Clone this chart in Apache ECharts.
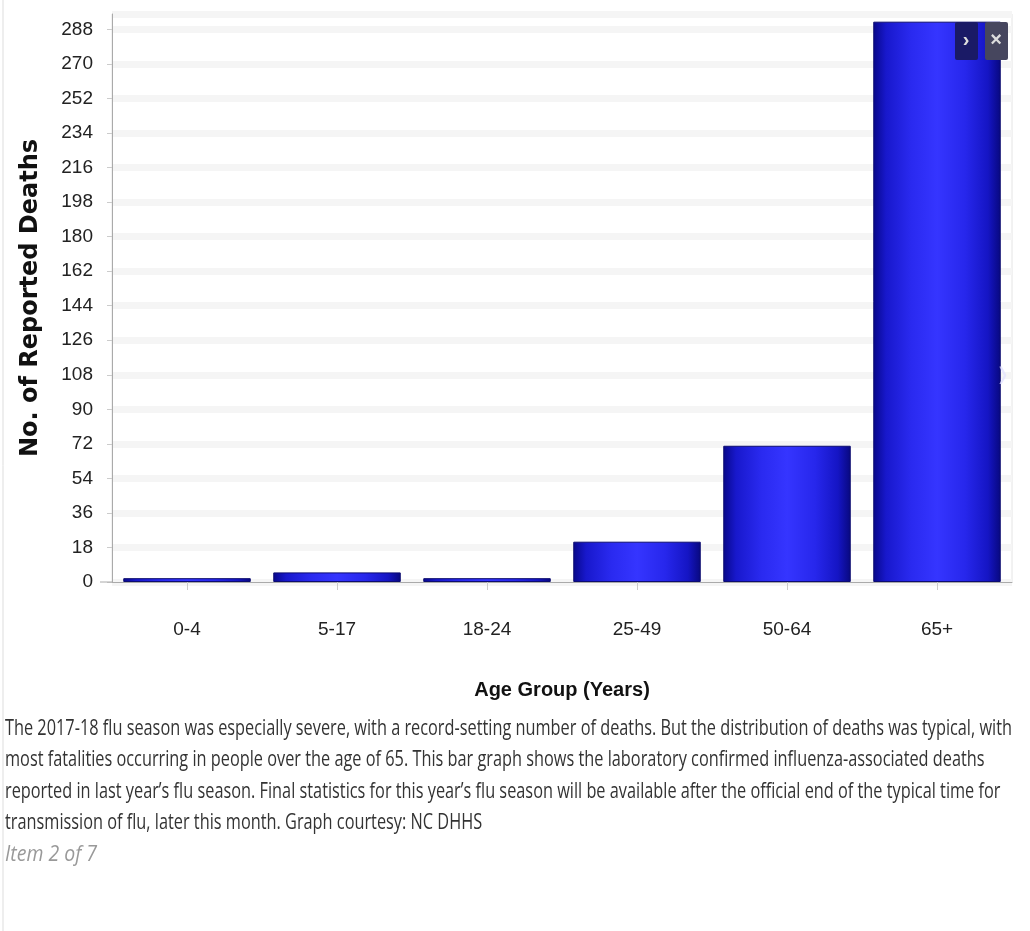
<!DOCTYPE html>
<html>
<head>
<meta charset="utf-8">
<script src="https://cdn.jsdelivr.net/npm/echarts@6/dist/echarts.min.js"></script>
<style>
  html, body { margin: 0; padding: 0; background: #fff; }
  #chart { width: 1030px; height: 931px; }
</style>
</head>
<body>
<div id="chart"></div>
<script>
const categories = ['0-4', '5-17', '18-24', '25-49', '50-64', '65+'];
const deaths = [2, 5, 2, 21, 71, 292];
const yAxisTitle = 'No. of Reported Deaths';
const xAxisTitle = 'Age Group (Years)';
const captionLines = [
  'The 2017-18 flu season was especially severe, with a record-setting number of deaths. But the distribution of deaths was typical, with',
  'most fatalities occurring in people over the age of 65. This bar graph shows the laboratory confirmed influenza-associated deaths',
  'reported in last year\u2019s flu season. Final statistics for this year\u2019s flu season will be available after the official end of the typical time for',
  'transmission of flu, later this month. Graph courtesy: NC DHHS'
];
const itemText = 'Item 2 of 7';

const SANS = '"Liberation Sans", Arial, sans-serif';
const CAPTION_FONT = '21px "Open Sans", sans-serif';
const ITEM_FONT = 'italic 21px "Open Sans", sans-serif';

// horizontal condensing factor for the caption, so the first line spans the page width
const measureCtx = document.createElement('canvas').getContext('2d');
measureCtx.font = CAPTION_FONT;
const captionScale = 1007 / measureCtx.measureText(captionLines[0]).width;
measureCtx.font = ITEM_FONT;
const itemScale = 92 / measureCtx.measureText(itemText).width;

const chart = echarts.init(document.getElementById('chart'), null, { renderer: 'canvas' });

const barGradient = new echarts.graphic.LinearGradient(0, 0, 1, 0, [
  { offset: 0, color: '#08088a' },
  { offset: 0.1, color: '#1818cc' },
  { offset: 0.3, color: '#2a2af0' },
  { offset: 0.5, color: '#3535ff' },
  { offset: 0.72, color: '#2727ec' },
  { offset: 0.9, color: '#1515c4' },
  { offset: 1, color: '#08087e' }
]);

const graphics = [
  { type: 'line', z: 100, shape: { x1: 3, y1: 0, x2: 3, y2: 931 }, style: { stroke: '#dddddd', lineWidth: 1 } },
  { type: 'line', z: 100, shape: { x1: 100, y1: 582, x2: 112, y2: 582 }, style: { stroke: '#aaaaaa', lineWidth: 1 } }
];
captionLines.forEach((t, i) => {
  graphics.push({
    type: 'text', z: 100, x: 5, y: 729 + i * 31.5, scaleX: captionScale,
    style: { text: t, font: CAPTION_FONT, fill: '#333333', verticalAlign: 'middle' }
  });
});
graphics.push({
  type: 'text', z: 100, x: 5, y: 855, scaleX: itemScale,
  style: { text: itemText, font: ITEM_FONT, fill: '#999999', verticalAlign: 'middle' }
});
// slideshow overlay buttons
graphics.push({ type: 'rect', z: 100, shape: { x: 955, y: 22, width: 23, height: 38, r: 2 }, style: { fill: '#1a1a66' } });
graphics.push({ type: 'text', z: 101, x: 966, y: 40, style: { text: '\u203A', font: 'bold 20px sans-serif', fill: '#dddddd', align: 'center', verticalAlign: 'middle' } });
graphics.push({ type: 'rect', z: 100, shape: { x: 985, y: 22, width: 23, height: 38, r: 2 }, style: { fill: '#46465e' } });
graphics.push({ type: 'text', z: 101, x: 996, y: 40, style: { text: '\u00D7', font: 'bold 20px sans-serif', fill: '#dddddd', align: 'center', verticalAlign: 'middle' } });
graphics.push({ type: 'text', z: 101, x: 1003, y: 375, scaleX: 0.6, style: { text: '\u203A', font: '44px sans-serif', fill: 'rgba(225,225,255,0.75)', align: 'center', verticalAlign: 'middle' } });

const option = {
  backgroundColor: '#ffffff',
  animation: false,
  grid: {
    left: 112, right: 18, top: 14, bottom: 349,
    show: true, borderColor: '#e4e4e4', borderWidth: 1, backgroundColor: 'transparent'
  },
  xAxis: {
    type: 'category',
    data: categories,
    axisLine: { show: true, lineStyle: { color: '#aaaaaa', width: 1 } },
    axisTick: { show: true, alignWithLabel: true, length: 8, lineStyle: { color: '#cccccc' } },
    axisLabel: { fontFamily: SANS, fontSize: 19, color: '#222222', margin: 38 },
    name: xAxisTitle,
    nameLocation: 'middle',
    nameGap: 98,
    nameTextStyle: { fontFamily: SANS, fontWeight: 'bold', fontSize: 20, color: '#111111' }
  },
  yAxis: {
    type: 'value',
    min: 0, max: 296, interval: 18,
    axisLabel: { fontFamily: SANS, fontSize: 19, color: '#222222', margin: 19, showMaxLabel: false },
    axisLine: { show: true, lineStyle: { color: '#aaaaaa', width: 1 } },
    axisTick: { show: true, length: 5, lineStyle: { color: '#cccccc' } },
    splitLine: { show: true, lineStyle: { color: '#f5f5f5', width: 7 } },
    name: yAxisTitle,
    nameLocation: 'middle',
    nameGap: 69,
    nameRotate: 90,
    nameTextStyle: { fontFamily: '"DejaVu Sans", sans-serif', fontWeight: 'bold', fontSize: 24, color: '#111111' }
  },
  series: [{
    type: 'bar',
    data: deaths,
    barCategoryGap: '15%',
    itemStyle: { color: barGradient, borderColor: '#0c0c70', borderWidth: 1 }
  }],
  graphic: graphics
};
chart.setOption(option);
</script>
</body>
</html>
